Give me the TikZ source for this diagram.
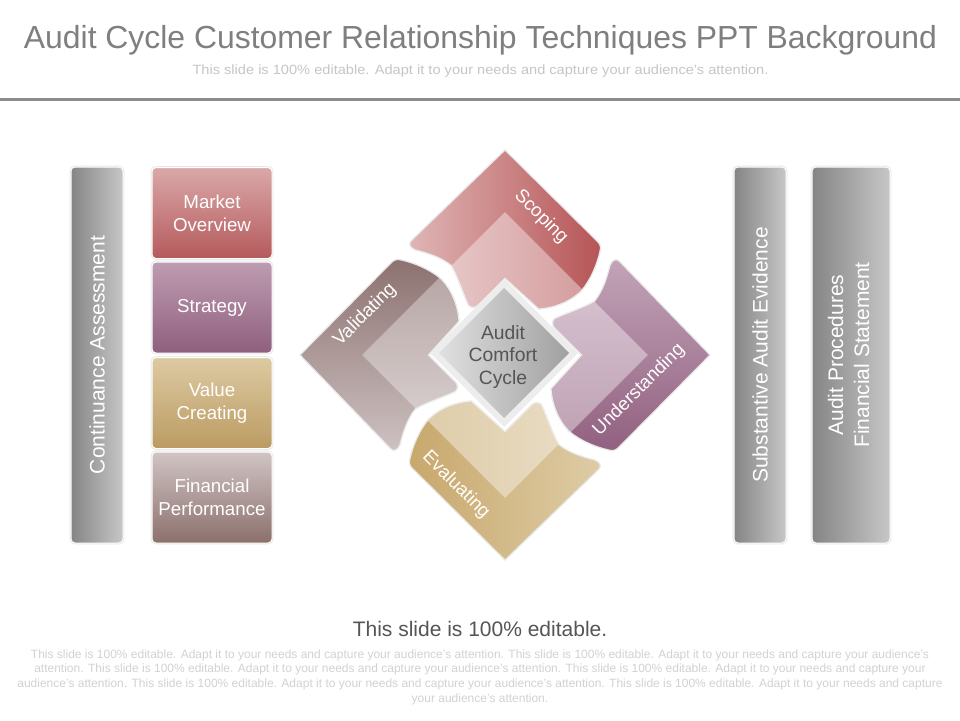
\documentclass[tikz,border=0pt]{standalone}
\usepackage{fontspec}
\setmainfont{Liberation Sans}
\definecolor{titlegray}{HTML}{7F7F7F}
\definecolor{subgray}{HTML}{C6C6C6}
\definecolor{paragray}{HTML}{D2D2D2}
\definecolor{rulegray}{HTML}{8C8C8C}
\definecolor{darktext}{HTML}{555555}
\definecolor{halo}{HTML}{E8E8E8}
\def\petal{(0,-201) -- (91,-111) .. controls (94,-108) and (94,-105) .. (93,-101) .. controls (90,-88) and (84,-74) .. (75,-63) .. controls (64,-52) and (48,-46) .. (33,-45) -- (0,-75) -- (-27,-48) .. controls (-30,-46) and (-34,-46) .. (-36,-49) .. controls (-42,-62) and (-46,-76) .. (-53,-88) .. controls (-63,-96) and (-76,-100) .. (-88,-103) .. controls (-93,-105) and (-95,-109) .. (-92,-112) -- cycle}
\def\chevron{(0,-140) -- (84,-56) -- (0,28) -- (-84,-56) -- cycle}
\tikzset{
  edgeglow/.style={preaction={draw=halo,line width=2.8pt}},
  box/.style={rectangle,rounded corners=4pt,inner sep=0pt,draw=white,line width=1pt,edgeglow,
    text=white,align=center},
  tile/.style={box,minimum width=120pt,minimum height=91pt,font=\fontsize{18.7}{23}\selectfont},
  graybar/.style={box,minimum height=376pt,left color=black!48,right color=black!22,font=\fontsize{21}{26}\selectfont},
  petaltext/.style={text=white,font=\fontsize{18.6}{22}\selectfont,inner sep=0pt},
  petaledge/.style={draw=halo,line width=1.2pt},
  petalscope/.style={shift={(505,355)},scale=1.02}
}
\begin{document}
\begin{tikzpicture}[x=1pt,y=-1pt]
\useasboundingbox (0,0) rectangle (960,720);
\fill[white] (0,0) rectangle (960,720);
% header
\node[text=titlegray,font=\fontsize{31.9}{38}\selectfont,inner sep=0pt] (title) at (480.5,40) {Audit Cycle Customer Relationship Techniques PPT Background};
\node[text=subgray,xscale=1.09,font=\fontsize{13.4}{16}\selectfont,inner sep=0pt] (subtitle) at (480.5,71) {This slide is 100\% editable. Adapt it to your needs and capture your audience's attention.};
\fill[rulegray] (0,98) rectangle (960,101);
% left column
\node[graybar,minimum width=52pt] (cont) at (97,355) {\rotatebox{90}{Continuance Assessment}};
\node[tile,top color={rgb,255:red,218;green,168;blue,168},bottom color={rgb,255:red,181;green,90;blue,92}] (market) at (212,213) {Market\\Overview};
\node[tile,top color={rgb,255:red,190;green,156;blue,177},bottom color={rgb,255:red,143;green,95;blue,126}] (strategy) at (212,307.5) {\raisebox{-2pt}{Strategy}};
\node[tile,top color={rgb,255:red,221;green,202;blue,162},bottom color={rgb,255:red,187;green,155;blue,98}] (value) at (212,403) {Value\\Creating};
\node[tile,top color={rgb,255:red,208;green,196;blue,196},bottom color={rgb,255:red,140;green,112;blue,108}] (fin) at (212,497.5) {Financial\\Performance};
% right column
\node[graybar,minimum width=52pt] (subst) at (760,355) {\rotatebox{90}{Substantive Audit Evidence}};
\node[graybar,minimum width=78pt] (proc) at (851,355) {\rotatebox{90}{\begin{tabular}{@{}c@{}}Audit Procedures\\Financial Statement\end{tabular}}};
% petals
\begin{scope}[petalscope]
  \shade[left color={rgb,255:red,224;green,182;blue,182},right color={rgb,255:red,182;green,84;blue,86},petaledge] \petal;
  \begin{scope} \clip \petal; \fill[white,opacity=.4] \chevron; \end{scope}
\end{scope}
\begin{scope}[petalscope,rotate=-90]
  \shade[top color={rgb,255:red,194;green,164;blue,184},bottom color={rgb,255:red,146;green,96;blue,128},petaledge] \petal;
  \begin{scope} \clip \petal; \fill[white,opacity=.4] \chevron; \end{scope}
\end{scope}
\begin{scope}[petalscope,rotate=180]
  \shade[left color={rgb,255:red,200;green,168;blue,108},right color={rgb,255:red,222;green,204;blue,166},petaledge] \petal;
  \begin{scope} \clip \petal; \fill[white,opacity=.4] \chevron; \end{scope}
\end{scope}
\begin{scope}[petalscope,rotate=90]
  \shade[top color={rgb,255:red,140;green,114;blue,112},bottom color={rgb,255:red,206;green,194;blue,194},petaledge] \petal;
  \begin{scope} \clip \petal; \fill[white,opacity=.35] \chevron; \end{scope}
\end{scope}
\node[petaltext,rotate=-45] (scoping) at (541,217) {Scoping};
\node[petaltext,rotate=45] (understanding) at (639,390) {Understanding};
\node[petaltext,rotate=-45] (evaluating) at (456,485) {Evaluating};
\node[petaltext,rotate=45] (validating) at (365,315) {Validating};
% centre
\fill[white!93!black] (504,279) -- (578,353) -- (504,427) -- (430,353) -- cycle;
\shade[shading=axis,shading angle=135,left color={rgb,255:red,224;green,224;blue,224},right color={rgb,255:red,160;green,160;blue,160}] (504,288) -- (569,353) -- (504,418) -- (439,353) -- cycle;
\node[text=darktext,align=center,font=\fontsize{19.3}{22.5}\selectfont,inner sep=0pt] (centre) at (503,357) {Audit\\Comfort\\Cycle};
% footer
\node[text=darktext,font=\fontsize{21}{24}\selectfont,inner sep=0pt] (foothead) at (480,629) {This slide is 100\% editable.};
\node[text=paragray,align=center,font=\fontsize{12}{14.6}\selectfont,inner sep=0pt] (footbody) at (480,677) {This slide is 100\% editable. Adapt it to your needs and capture your audience's attention. This slide is 100\% editable. Adapt it to your needs and capture your audience's\\attention. This slide is 100\% editable. Adapt it to your needs and capture your audience's attention. This slide is 100\% editable. Adapt it to your needs and capture your\\audience's attention. This slide is 100\% editable. Adapt it to your needs and capture your audience's attention. This slide is 100\% editable. Adapt it to your needs and capture\\your audience's attention.};
\end{tikzpicture}
\end{document}
